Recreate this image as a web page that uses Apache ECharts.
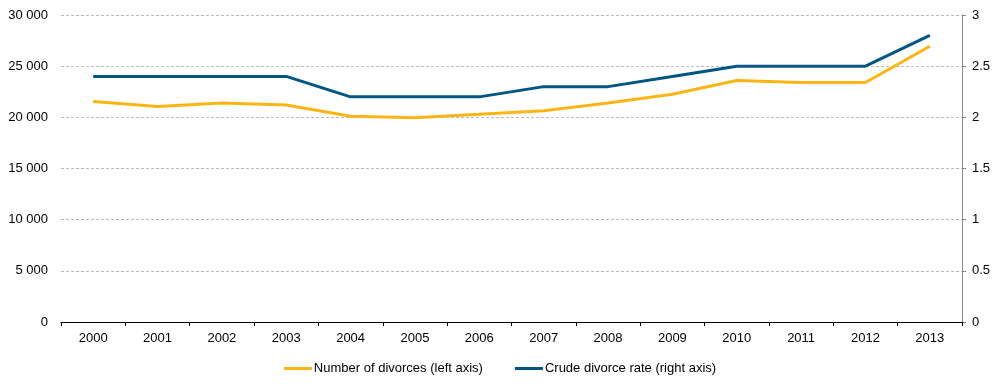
<!DOCTYPE html>
<html><head><meta charset="utf-8">
<script src="https://cdn.jsdelivr.net/npm/echarts@6/dist/echarts.min.js"></script>
<style>html,body{margin:0;padding:0;background:#fff}#c{width:1000px;height:385px}</style>
</head><body><div id="c"></div>
<script>
const years = ['2000','2001','2002','2003','2004','2005','2006','2007','2008','2009','2010','2011','2012','2013'];
const divorces = [21550, 21050, 21400, 21200, 20100, 19970, 20300, 20650, 21400, 22250, 23600, 23400, 23400, 26950];
const rate = [2.4, 2.4, 2.4, 2.4, 2.2, 2.2, 2.2, 2.3, 2.3, 2.4, 2.5, 2.5, 2.5, 2.8];
const seriesNames = ['Number of divorces (left axis)', 'Crude divorce rate (right axis)'];
const colors = ['#FDB515', '#005683'];
const font = 'Liberation Sans, Arial, sans-serif';
const chart = echarts.init(document.getElementById('c'));
chart.setOption({
  animation: false,
  grid: {left: 61, right: 38, top: 15, bottom: 63, containLabel: false},
  legend: {
    top: 357, left: 'center', itemGap: 32, itemWidth: 28, itemHeight: 3,
    icon: 'rect',
    textStyle: {fontFamily: font, fontSize: 13, color: '#000', padding: [0,0,0,-3]},
    data: seriesNames
  },
  xAxis: {
    type: 'category', data: years, boundaryGap: true,
    axisLine: {lineStyle: {color: '#000', width: 1}},
    axisTick: {show: true, length: 4, lineStyle: {color: '#000'}},
    axisLabel: {fontFamily: font, fontSize: 13, color: '#000', margin: 10}
  },
  yAxis: [{
    type: 'value', min: 0, max: 30000, interval: 5000,
    axisLine: {show: false}, axisTick: {show: false},
    axisLabel: {fontFamily: font, fontSize: 13, color: '#000', margin: 13,
      formatter: v => String(v).replace(/\B(?=(\d{3})+(?!\d))/g, ' ')},
    splitLine: {lineStyle: {color: '#bbb', type: [3, 2], width: 1}}
  }, {
    type: 'value', min: 0, max: 3, interval: 0.5, position: 'right',
    axisLine: {show: true, lineStyle: {color: '#888'}},
    axisTick: {show: true, length: 4, lineStyle: {color: '#888'}},
    axisLabel: {fontFamily: font, fontSize: 13, color: '#000', margin: 10},
    splitLine: {show: false}
  }],
  series: [{
    name: seriesNames[0], type: 'line', yAxisIndex: 0, data: divorces,
    symbol: 'none', lineStyle: {color: colors[0], width: 3}, itemStyle: {color: colors[0]}
  }, {
    name: seriesNames[1], type: 'line', yAxisIndex: 1, data: rate,
    symbol: 'none', lineStyle: {color: colors[1], width: 3}, itemStyle: {color: colors[1]}
  }]
});
</script></body></html>
